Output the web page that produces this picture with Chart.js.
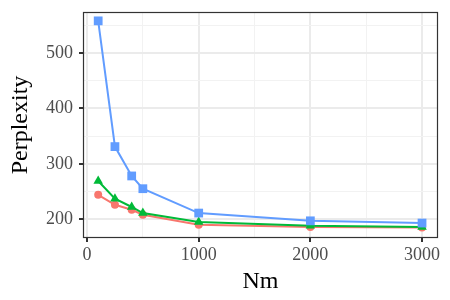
<!DOCTYPE html>
<html>
<head>
<meta charset="utf-8">
<script src="https://cdn.jsdelivr.net/npm/chart.js@4"></script>
<style>
  html, body { margin: 0; padding: 0; background: #fff; }
  #wrap { width: 450px; height: 300px; }
</style>
</head>
<body>
<div id="wrap"><canvas id="chart" width="450" height="300"></canvas></div>
<script>
// ─── Data ───────────────────────────────────────────────────

const nmValues = [100, 250, 400, 500, 1000, 2000, 3000];
const blueSeries = [558, 331, 278, 255, 211, 197, 193];
const greenSeries = [269, 237, 222, 211, 195, 188, 186];
const redSeries = [244, 226, 217, 208, 190, 186, 185];

const xTicks = [0, 1000, 2000, 3000];
const yTicks = [200, 300, 400, 500];

const FONT = "'Liberation Serif', 'DejaVu Serif', serif";

function toPoints(ys) {
  return nmValues.map((x, i) => ({ x, y: ys[i] }));
}

function series(label, ys, color, shape, radius) {
  return {
    label,
    data: toPoints(ys),
    borderColor: color,
    backgroundColor: color,
    borderWidth: 2,
    pointStyle: shape,
    pointRadius: radius,
    pointBorderWidth: 0,
    pointHoverRadius: radius,
    tension: 0,
  };
}

// full panel border (theme_bw)
const panelBorder = {
  id: 'panelBorder',
  afterDraw(chart) {
    const { ctx, chartArea: a } = chart;
    ctx.save();
    ctx.strokeStyle = '#333333';
    ctx.lineWidth = 1.2;
    ctx.strokeRect(a.left + 0.5, a.top + 0.5, a.right - a.left - 1, a.bottom - a.top - 1);
    ctx.restore();
  },
};

function gridFor(majors) {
  const isMajor = ctx => majors.includes(ctx.tick && ctx.tick.value);
  return {
    color: ctx => isMajor(ctx) ? '#EBEBEB' : '#F2F2F2',
    lineWidth: ctx => isMajor(ctx) ? 2 : 1,
    tickColor: ctx => isMajor(ctx) ? '#333333' : 'rgba(0,0,0,0)',
    tickLength: 4,
    drawTicks: true,
  };
}

new Chart(document.getElementById('chart'), {
  type: 'line',
  data: {
    datasets: [
      series('blue', blueSeries, '#619CFF', 'rect', 6.2),
      series('green', greenSeries, '#00BA38', 'triangle', 5.5),
      series('red', redSeries, '#F8766D', 'circle', 4),
    ],
  },
  options: {
    responsive: false,
    animation: false,
    events: [],
    layout: { padding: { top: 12, right: 12, left: 0, bottom: 0 } },
    plugins: { legend: { display: false }, tooltip: { enabled: false } },
    scales: {
      x: {
        type: 'linear',
        min: -36,
        max: 3143,
        afterBuildTicks: s => { s.ticks = [0, 500, 1000, 1500, 2000, 2500, 3000].map(v => ({ value: v })); },
        afterFit: s => { s.height = 62; s.paddingLeft = 0; s.paddingRight = 0; },
        grid: gridFor(xTicks),
        border: { display: false },
        ticks: {
          callback: v => xTicks.includes(v) ? String(v) : '',
          color: '#4D4D4D',
          font: { family: FONT, size: 18 },
          padding: 2,
          maxRotation: 0,
        },
        title: {
          display: true,
          text: 'Nm',
          color: '#000',
          font: { family: FONT, size: 24 },
          padding: { top: 0, bottom: 4 },
        },
      },
      y: {
        type: 'linear',
        min: 166,
        max: 574,
        afterBuildTicks: s => { s.ticks = [200, 250, 300, 350, 400, 450, 500, 550].map(v => ({ value: v })); },
        afterFit: s => { s.width = 83; s.paddingTop = 0; s.paddingBottom = 0; },
        grid: gridFor(yTicks),
        border: { display: false },
        ticks: {
          callback: v => yTicks.includes(v) ? String(v) : '',
          color: '#4D4D4D',
          font: { family: FONT, size: 18 },
          padding: 6,
        },
        title: {
          display: true,
          text: 'Perplexity',
          color: '#000',
          font: { family: FONT, size: 24 },
          padding: { top: 6, bottom: 6 },
        },
      },
    },
  },
  plugins: [panelBorder],
});
</script>
</body>
</html>
